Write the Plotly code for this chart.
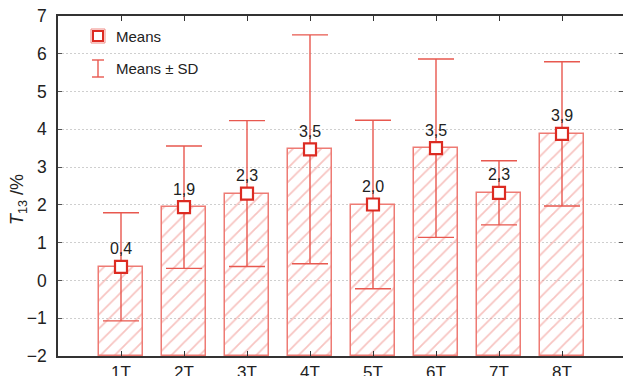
import plotly.graph_objects as go

# Group labels, means and standard deviations of T13 (%)
groups = ["1T", "2T", "3T", "4T", "5T", "6T", "7T", "8T"]
means = [0.36, 1.94, 2.30, 3.47, 2.01, 3.50, 2.32, 3.88]
sds = [1.43, 1.62, 1.93, 3.03, 2.23, 2.36, 0.85, 1.91]
y_ticks = [-2, -1, 0, 1, 2, 3, 4, 5, 6, 7]

W, H = 623, 376
ML, MR, MT, MB = 58, 0, 16, 20
PW, PH = W - ML - MR, H - MT - MB

FONT = "Liberation Sans, Arial, Helvetica, sans-serif"
RED_DARK = "#DC2B22"
RED_ERR = "#E8584F"
RED_BAR = "#EE7B74"
RED_HATCH = "#F08A84"
INK = "#222222"

Y_MIN, Y_MAX = -2, 7

xpos = list(range(1, len(groups) + 1))
labels = [f"{m:.1f}".replace(".", ",") for m in means]
tick_text = [("\u2212" + str(-t)) if t < 0 else str(t) for t in y_ticks]
# bars rise from the bottom of the value axis up to each mean
bar_heights = [m - Y_MIN for m in means]

fig = go.Figure()

fig.add_trace(go.Bar(
    x=xpos, y=bar_heights, base=Y_MIN, width=0.71,
    marker=dict(
        color="rgba(255,255,255,0)",
        line=dict(color=RED_BAR, width=1.5),
        pattern=dict(shape="/", fgcolor=RED_HATCH, bgcolor="rgba(255,255,255,0)",
                     size=10, solidity=0.18),
    ),
    showlegend=False, hoverinfo="skip",
))

fig.add_trace(go.Scatter(
    x=xpos, y=means, mode="markers+text",
    text=labels, textposition="top center",
    textfont=dict(family=FONT, size=16, color=INK),
    marker=dict(symbol="square", size=12, color="white",
                line=dict(color=RED_DARK, width=2.2)),
    error_y=dict(type="data", array=sds, visible=True,
                 color=RED_ERR, thickness=1.4, width=18),
    showlegend=False, hoverinfo="skip",
))


def px_x(px):
    return (px - ML) / PW


def px_y(py):
    return (H - MB - py) / PH


shapes = []
# legend: mean marker
shapes.append(dict(type="rect", xref="paper", yref="paper",
                   x0=px_x(91), x1=px_x(105), y0=px_y(43), y1=px_y(29),
                   line=dict(color="#F08A84", width=1), fillcolor="white"))
shapes.append(dict(type="rect", xref="paper", yref="paper",
                   x0=px_x(93), x1=px_x(103), y0=px_y(41), y1=px_y(31),
                   line=dict(color=RED_DARK, width=2), fillcolor="white"))
# legend: mean +/- SD glyph
for seg in [((98, 60), (98, 77)), ((92, 60), (104, 60)), ((92, 77), (104, 77))]:
    (x0, y0), (x1, y1) = seg
    shapes.append(dict(type="line", xref="paper", yref="paper",
                       x0=px_x(x0), x1=px_x(x1), y0=px_y(y0), y1=px_y(y1),
                       line=dict(color=RED_ERR, width=1.4)))

annotations = [
    dict(text="Means", xref="paper", yref="paper", x=px_x(114), y=px_y(36),
         xanchor="left", yanchor="middle", showarrow=False,
         font=dict(family=FONT, size=15, color=INK)),
    dict(text="Means \u00b1 SD", xref="paper", yref="paper", x=px_x(114), y=px_y(68),
         xanchor="left", yanchor="middle", showarrow=False,
         font=dict(family=FONT, size=15, color=INK)),
    dict(text="<i>T</i><sub>13</sub> /%", xref="paper", yref="paper",
         x=px_x(18), y=px_y(200), xanchor="center", yanchor="middle",
         textangle=-90, showarrow=False,
         font=dict(family=FONT, size=18, color=INK)),
]

fig.update_layout(
    width=W, height=H,
    margin=dict(l=ML, r=MR, t=MT, b=MB, pad=0, autoexpand=False),
    paper_bgcolor="white", plot_bgcolor="white",
    shapes=shapes, annotations=annotations,
    bargap=0,
    xaxis=dict(
        range=[0, PW / 63.0], tickvals=xpos, ticktext=groups,
        automargin=False,
        showgrid=False, zeroline=False,
        showline=True, linecolor="#333333", linewidth=1.6, mirror="allticks",
        ticks="inside", ticklen=5, tickcolor="#333333", tickwidth=1,
        tickfont=dict(family=FONT, size=17, color=INK),
    ),
    yaxis=dict(
        range=[Y_MIN, Y_MAX], tickvals=y_ticks, ticktext=tick_text,
        automargin=False,
        showgrid=True, gridcolor="#CFCFCF", griddash="2px,2px", gridwidth=1,
        zeroline=False,
        showline=True, linecolor="#333333", linewidth=1.6, mirror="allticks",
        ticks="inside", ticklen=4, tickcolor="#555555", tickwidth=1,
        ticklabelstandoff=6,
        tickfont=dict(family=FONT, size=17.5, color=INK),
    ),
)

fig.write_html("out.html")
